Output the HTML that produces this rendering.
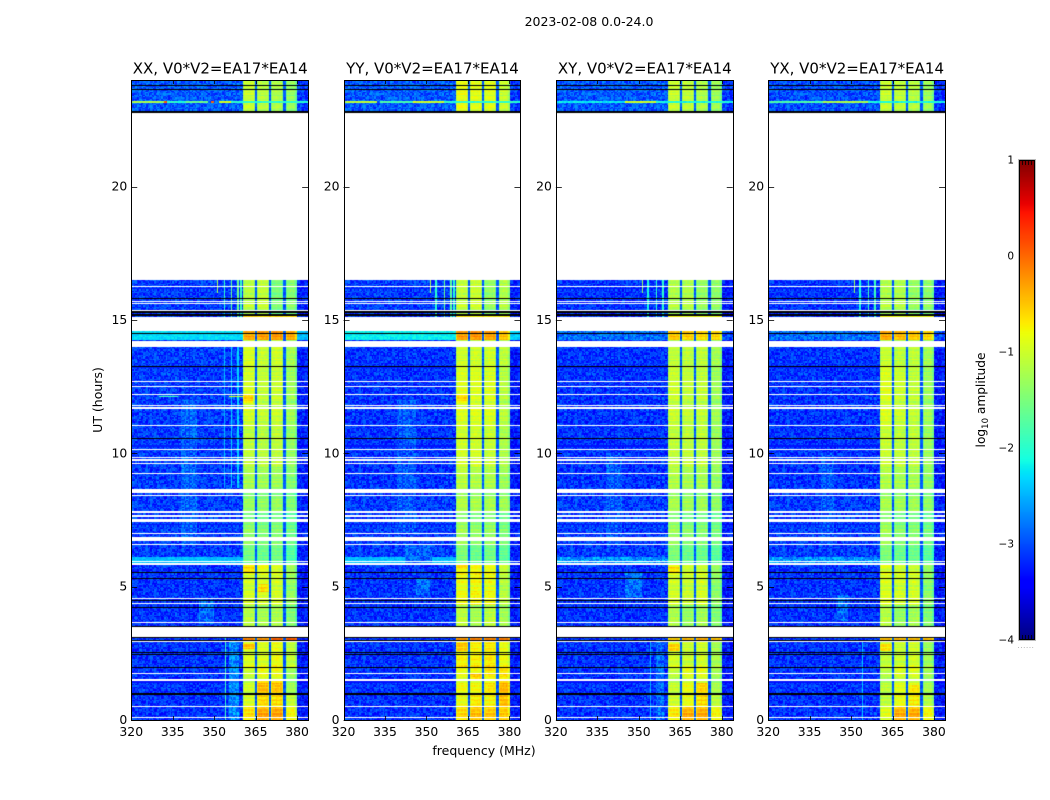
<!DOCTYPE html>
<html>
<head>
<meta charset="utf-8">
<title>2023-02-08 0.0-24.0</title>
<style>
html,body{margin:0;padding:0;background:#fff;}
#fig{position:relative;width:1050px;height:800px;overflow:hidden;background:#fff;}
canvas{position:absolute;display:block;}
svg{position:absolute;left:0;top:0;}
text{font-family:"DejaVu Sans","Liberation Sans",sans-serif;fill:#000;}
</style>
</head>
<body>
<div id="fig">
<svg id="ov" width="1050" height="800" viewBox="0 0 1050 800">
  <text x="589" y="26" text-anchor="middle" font-size="12.5">2023-02-08 0.0-24.0</text>
  <text x="484" y="755" text-anchor="middle" font-size="12.5">frequency (MHz)</text>
  <text transform="translate(102,400) rotate(-90)" text-anchor="middle" font-size="12.5">UT (hours)</text>
  <text transform="translate(985,400) rotate(-90)" text-anchor="middle" font-size="12.2">log<tspan font-size="8.5" dy="3">10</tspan><tspan dy="-3"> amplitude</tspan></text>
  <text x="1026" y="648" text-anchor="middle" font-size="7" style="fill:#999" letter-spacing="0.6">......</text>
</svg>
</div>
<script>
/* ---------- axis data ---------- */
const freqRange = [320, 384];
const hourRange = [0, 24];
const freqTicks = [320, 335, 350, 365, 380];
const hourTicks = [0, 5, 10, 15, 20];
const colorRange = [-4, 1];
const colorbarTicks = [1, 0, -1, -2, -3, -4];
const channelWidth = 0.5;
const rowHours = 0.05;

const subbands = [[360.5,365],[365.5,370],[370.5,374.9],[375.8,380]];
const subbandGapLevel = -2.95;
const blockEdges = [0,.5,1,2,3,3.5,4.3,5.6,5.85,6.55,7.8,8.7,9.5,11,13.3,14.21,14.6,16.5,22.8,24];

const backgroundXX = [-3.15,-3.15,-3.15,-3.15,-3.15,-3.15,-3.15,-3.15,-3.1,-3.1,-3.1,-3.1,-3.1,-3.1,-3.1,-2.3,-3.1,-3.1,-2.95];
const backgroundYY = [-3.15,-3.15,-3.15,-3.15,-3.15,-3.15,-3.15,-3.15,-3.1,-3.1,-3.1,-3.15,-3.15,-3.15,-3.15,-2.2,-3.1,-3.1,-2.95];
const backgroundXY = [-3.15,-3.15,-3.15,-3.15,-3.15,-3.15,-3.15,-3.15,-3.1,-3.1,-3.1,-3.15,-3.15,-3.15,-3.15,-2.85,-3.15,-3.15,-2.95];
const backgroundYX = [-3.15,-3.15,-3.15,-3.15,-3.15,-3.15,-3.15,-3.15,-3.1,-3.1,-3.1,-3.15,-3.15,-3.15,-3.15,-2.85,-3.15,-3.15,-3.0];

const bandLevelsXX = [
 [-.7,-.55,-.45,-.8],[-.95,-.75,-.75,-1.05],[-1.05,-.85,-.85,-1.3],[-.95,-.95,-.85,-1.1],
 [-.2,-.3,0,.05],[-1.15,-1.25,-1.2,-1.45],[-1,-1,-1,-1.35],[-.85,-.85,-.95,-1.3],
 [-1.55,-1.6,-1.55,-1.75],[-1.4,-1.5,-1.45,-1.6],[-1.35,-1.4,-1.35,-1.5],[-1.25,-1.3,-1.3,-1.45],[-1.1,-1.15,-1.1,-1.35],
 [-1,-1.1,-1.05,-1.3],[-.95,-1.05,-1,-1.25],[-.35,-.3,-.25,-.35],[-1.15,-1.1,-1.5,-1.45],
 [-1,-1,-1,-1],[-1.05,-1.15,-1.2,-1.35]];
const bandLevelsYY = [
 [-.65,-.5,-.55,-.55],[-.85,-.7,-.75,-.65],[-.85,-.85,-.7,-.65],[-.75,-.75,-.7,-.85],
 [-.3,-.2,-.2,-.15],[-1.1,-1.25,-1.1,-1.25],[-.85,-.8,-.85,-1.15],[-.7,-.8,-.85,-1.05],
 [-1.5,-1.6,-1.55,-1.65],[-1.3,-1.4,-1.35,-1.5],[-1.2,-1.25,-1.25,-1.3],[-1.15,-1.2,-1.2,-1.3],[-1,-1,-1.05,-1.2],
 [-.95,-.95,-.95,-1.15],[-1,-1,-1,-1.1],[-.3,-.25,-.3,-.5],[-1.1,-1.05,-1.35,-1.2],
 [-1,-1,-1,-1],[-.85,-.9,-.9,-1.05]];
const bandLevelsXY = [
 [-.75,-.55,-.5,-.8],[-1,-.85,-.75,-1.1],[-1.1,-.9,-.9,-1.25],[-1,-1.05,-1,-1.25],
 [-.6,-.5,-.4,-.5],[-1.2,-1.35,-1.25,-1.45],[-1,-1.05,-1,-1.4],[-.95,-1.05,-1.05,-1.35],
 [-1.5,-1.6,-1.6,-1.7],[-1.35,-1.45,-1.45,-1.55],[-1.25,-1.3,-1.3,-1.4],[-1.2,-1.25,-1.25,-1.35],[-1.1,-1.1,-1.1,-1.3],
 [-1.05,-1.1,-1.1,-1.3],[-1.1,-1.1,-1.1,-1.25],[-.5,-.55,-.6,-.6],[-1.2,-1.2,-1.35,-1.4],
 [-1,-1,-1,-1],[-1.05,-1.1,-1.2,-1.3]];
const bandLevelsYX = [
 [-.95,-.55,-.55,-.8],[-1.1,-.85,-.85,-1.15],[-1.15,-.95,-.95,-1.25],[-1.1,-1.05,-1,-1.3],
 [-.5,-.5,-.5,-.5],[-1.15,-1.35,-1.25,-1.45],[-.95,-1,-1,-1.4],[-.95,-1.05,-1.05,-1.35],
 [-1.5,-1.6,-1.6,-1.7],[-1.3,-1.45,-1.45,-1.55],[-1.25,-1.3,-1.3,-1.4],[-1.2,-1.25,-1.25,-1.35],[-1.05,-1.1,-1.1,-1.3],
 [-.95,-1.05,-1.1,-1.3],[-1.05,-1.1,-1.1,-1.25],[-.35,-.45,-.5,-.6],[-1.2,-1.2,-1.35,-1.4],
 [-1,-1,-1,-1],[-1.05,-1.1,-1.15,-1.3]];

/* brighter patches inside the sub-bands: [fLow, fHigh, hourLow, hourHigh, level] */
const bandSpotsXX = [[360.5,365,2.65,2.85,-.45],[365.5,375,1,1.45,-.5],[365.5,375,.55,.95,-.6],[365.5,375,0,.45,-.35],[360.5,365,5.55,5.75,-.6],[366,370,4.8,5.1,-.6],[360.5,364,11.9,12.2,-.6]];
const bandSpotsYY = [[375.5,380,.5,1.5,-.45],[365.5,370,1.5,1.75,-.5],[360.5,365,2.6,2.9,-.5],[360.5,365,11.9,12.2,-.65]];
const bandSpotsXY = [[360.5,365,2.6,2.85,-.55],[370.5,375,.55,1.4,-.6],[365.5,375,0,.45,-.4],[360.5,365,5.5,5.75,-.6]];
const bandSpotsYX = [[365.5,375,0,.45,-.4],[370.5,375,.55,1.3,-.7],[360.5,365,2.6,2.85,-.65]];

/* localised emission: [fLow, fHigh, hourLow, hourHigh, level] */
const emissionXX = [
 [320,360.5,5.85,6.1,-2.45],[354,354.5,0,3.1,-1.9],[355.5,359,0,3,-2.7],
 [350.8,351.7,16,16.5,-1.3],[353.5,354,14.6,16.5,-2],[356,356.5,14.6,16.5,-1.6],[358.5,359,14.6,16.5,-1.6],[359.5,360,14.6,16.5,-1.9],
 [353.5,354,8.7,14,-2.5],[356,356.5,8.7,14,-2.35],[358.5,359,8.7,14,-2.35],
 [338,344,6.6,12,-2.9],[344.5,350,3.6,4.5,-2.85],[330,337,12.1,12.14,-1.9],[355.5,360.5,12.1,12.14,-1],
 [320.5,332,23.15,23.2,-1.2],[332,333,23.15,23.2,.1],[333,340,23.15,23.2,-2],[340,348,23.15,23.2,-1.6],[349,350,23.15,23.2,0],[352,356,23.15,23.2,-.9],[356,384,23.15,23.2,-2],
 [360.5,380,15.11,15.18,-.6]];
const emissionYY = [
 [320,360.5,5.85,6.1,-2.45],[351,351.7,16,16.5,-1.3],[353,353.5,14.6,16.5,-2],[356,356.5,14.6,16.5,-1.6],[358.5,359,14.6,16.5,-1.7],[359.5,360,14.6,16.5,-2],
 [346,351,4.7,5.3,-2.85],[339,346,7,12,-2.95],[342,352,5.9,6.6,-2.9],
 [320.5,332,23.15,23.2,-1.1],[333,345,23.15,23.2,-1.8],[345,356,23.15,23.2,-1],[356,384,23.15,23.2,-2],
 [360.5,380,15.11,15.18,-.7]];
const emissionXY = [
 [320,360.5,5.85,6.1,-2.65],[351,351.7,16,16.5,-1.4],[353,353.5,14.6,16.5,-2.1],[356,356.5,14.6,16.5,-2],[358.5,359,14.6,16.5,-2],
 [345,351,4.6,5.5,-2.85],[338,344,6.6,10,-2.95],[354,354.5,0,3,-2.5],[356,359,0,3,-2.85],
 [320.5,345,23.15,23.2,-2.2],[345,356,23.15,23.2,-1],[356,384,23.15,23.2,-2.1],
 [360.5,380,15.11,15.18,-.8]];
const emissionYX = [
 [320,360.5,5.85,6.1,-2.65],[351,351.7,16,16.5,-1.4],[353,353.5,14.6,16.5,-2.1],[356,356.5,14.6,16.5,-1.9],[358.5,359,14.6,16.5,-1.9],
 [345,349,3.7,4.7,-2.85],[339,344,6.6,10,-2.95],[354,354.5,0,3,-2.4],
 [320.5,340,23.15,23.2,-1.8],[340,356,23.15,23.2,-1.2],[356,384,23.15,23.2,-2.1],
 [360.5,380,15.11,15.18,-.8]];

/* flagged (blank) and dropout (black) integrations: [hourLow, hourHigh] */
const flaggedHours = [
 [.07,.12],[.47,.53],[1.46,1.54],[1.73,1.77],[2.91,2.95],[3.12,3.5],[3.64,3.68],[4.35,4.39],[4.53,4.57],
 [5.83,5.87],[5.93,5.97],[6.57,6.61],[6.72,6.87],[6.96,7],[7.42,7.46],[7.48,7.52],[7.63,7.67],[7.78,7.82],
 [8.39,8.43],[8.53,8.68],[9.23,9.27],[9.6,9.65],[9.73,9.77],[9.82,9.86],[10.13,10.17],[11.01,11.05],
 [11.68,11.72],[11.76,11.8],[12.19,12.23],[12.49,12.53],[12.67,12.71],[13.99,14.21],[14.59,15.11],
 [15.35,15.39],[15.6,15.64],[15.69,15.73],[16.25,16.29],[16.5,22.8]];
const dropoutHours = [
 [.95,1.02],[1.96,2],[2.44,2.48],[2.5,2.54],[2.95,2.99],[3.09,3.13],[3.5,3.54],[4.2,4.24],[4.45,4.49],
 [5.28,5.32],[5.5,5.54],[10.54,10.58],[13.25,13.29],[14.49,14.53],[15.16,15.24],[15.28,15.32],[15.78,15.82],
 [22.77,22.85],[23.64,23.68],[23.76,23.8]];

/* receiver speckle residuals, estimated in amplitude only */
const speckleChan = [.12,-.2,.05,.25,-.1,-.28,.18,.02,-.15,.3,-.05,.1,-.24,.16,-.02,.22,-.18];
const speckleRow = [.1,-.15,.2,-.05,.28,-.22,.04,.14,-.3,.08,-.12,.24,-.02,-.18,.16,.06,-.26,.3,-.08,.12,-.2,.02,.18];
const speckleCell = [.35,-.4,.12,.5,-.22,-.5,.28,.05,-.32,.44,-.1,.2,-.45,.3,-.03,.4,-.28,.15,-.55,.08,.48,-.18,.25,-.38,.02,.55,-.12,-.48,.33,.1,
 -.25,.42,-.06,-.36,.22,.52,-.42,.03,.17,-.3,.38,-.15,-.52,.27,.07,.46,-.2,-.34,.13,.5,-.08,-.44,.31,.0,.24,-.27,.4,-.58,.16];

const panelDefs = [
 {key:'xx', title:'XX, V0*V2=EA17*EA14', background:backgroundXX, bandLevels:bandLevelsXX, bandSpots:bandSpotsXX, emission:emissionXX},
 {key:'yy', title:'YY, V0*V2=EA17*EA14', background:backgroundYY, bandLevels:bandLevelsYY, bandSpots:bandSpotsYY, emission:emissionYY},
 {key:'xy', title:'XY, V0*V2=EA17*EA14', background:backgroundXY, bandLevels:bandLevelsXY, bandSpots:bandSpotsXY, emission:emissionXY},
 {key:'yx', title:'YX, V0*V2=EA17*EA14', background:backgroundYX, bandLevels:bandLevelsYX, bandSpots:bandSpotsYX, emission:emissionYX}
];

/* ---------- layout ---------- */
const plotW = 176.9, plotH = 640, plotTop = 80, firstLeft = 131.25, panelStep = 212.3;
const xScale = f => (f - freqRange[0]) / (freqRange[1] - freqRange[0]) * plotW;
const yScale = h => plotH - (h - hourRange[0]) / (hourRange[1] - hourRange[0]) * plotH;

function interp(stops, v) {
  for (let i = 1; i < stops.length; i++) {
    if (v <= stops[i][0]) {
      const p = stops[i-1], q = stops[i];
      return p[1] + (q[1]-p[1]) * (v-p[0]) / (q[0]-p[0]);
    }
  }
  return stops[stops.length-1][1];
}
const jetR = [[0,0],[.35,0],[.66,1],[.89,1],[1,.5]];
const jetG = [[0,0],[.125,0],[.375,1],[.64,1],[.91,0],[1,0]];
const jetB = [[0,.5],[.11,1],[.34,1],[.65,0],[1,0]];
function jet(level) {
  const n = Math.max(0, Math.min(1, (level - colorRange[0]) / (colorRange[1] - colorRange[0])));
  return 'rgb(' + Math.round(interp(jetR,n)*255) + ',' + Math.round(interp(jetG,n)*255) + ',' + Math.round(interp(jetB,n)*255) + ')';
}
function blockIndex(h) {
  for (let i = 0; i < blockEdges.length - 1; i++) if (h < blockEdges[i+1]) return i;
  return blockEdges.length - 2;
}
function cellLevel(p, f, h, c, r) {
  const b = blockIndex(h);
  const fm = f + channelWidth / 2, hm = h + rowHours / 2;
  const chanTex = speckleChan[c % speckleChan.length];
  const rowTex = speckleRow[r % speckleRow.length];
  const cellTex = speckleCell[(c * 31 + r * 17 + c * r) % speckleCell.length];
  let level = null, inBand = false, isGap = false;
  for (let i = 0; i < subbands.length; i++) {
    if (fm >= subbands[i][0] && fm <= subbands[i][1]) {
      level = p.bandLevels[b][i];
      inBand = true;
      for (let s = 0; s < p.bandSpots.length; s++) {
        const q = p.bandSpots[s];
        if (fm >= q[0] && fm < q[1] && hm >= q[2] && hm < q[3]) level = q[4];
      }
      if (fm - subbands[i][0] < .5 || subbands[i][1] - fm < .5) level -= .25;
    }
  }
  if (level === null) {
    if (fm > subbands[0][0] && fm < subbands[3][1]) { level = subbandGapLevel; isGap = true; }
    else level = p.background[b] - (fm > subbands[3][1] ? .15 : 0);
  }
  for (let k = 0; k < p.emission.length; k++) {
    const e = p.emission[k];
    if (fm >= e[0] && fm < e[1] && hm >= e[2] && hm < e[3]) {
      if (!inBand || e[1] - e[0] > 15) level = e[4];
    }
  }
  if (inBand) return level + rowTex * .5 + chanTex * .15 + cellTex * .18;
  if (isGap) return level + cellTex * .25;
  if (level > -2.6) return level + rowTex * .1 + cellTex * .22;
  return level + rowTex * .08 + chanTex * .08 + cellTex * .6;
}

const fig = document.getElementById('fig');
const ov = document.getElementById('ov');
const NS = 'http://www.w3.org/2000/svg';

function addLine(x1, y1, x2, y2) {
  const l = document.createElementNS(NS, 'line');
  l.setAttribute('x1', x1);
  l.setAttribute('y1', y1);
  l.setAttribute('x2', x2);
  l.setAttribute('y2', y2);
  l.setAttribute('stroke', '#000');
  l.setAttribute('stroke-width', '0.8');
  ov.appendChild(l);
  return l;
}
function addText(x, y, str, size, anchor) {
  const t = document.createElementNS(NS, 'text');
  t.setAttribute('x', x);
  t.setAttribute('y', y);
  t.setAttribute('font-size', size);
  t.setAttribute('text-anchor', anchor);
  t.textContent = str;
  ov.appendChild(t);
  return t;
}

panelDefs.forEach((p, idx) => {
  const left = firstLeft + idx * panelStep;
  const leftPx = Math.round(left);
  const rightPx = Math.round(left + plotW);
  const cv = document.createElement('canvas');
  cv.width = rightPx - leftPx;
  cv.height = plotH;
  cv.style.left = leftPx + 'px';
  cv.style.top = plotTop + 'px';
  
  
  fig.insertBefore(cv, ov);
  const g = cv.getContext('2d');
  g.fillStyle = '#fff';
  g.fillRect(0, 0, cv.width, cv.height);

  const nChan = Math.round((freqRange[1] - freqRange[0]) / channelWidth);
  const nRow = Math.round((hourRange[1] - hourRange[0]) / rowHours);
  for (let r = 0; r < nRow; r++) {
    const h = hourRange[0] + r * rowHours;
    const y0 = Math.round(yScale(h + rowHours)), y1 = Math.round(yScale(h));
    for (let c = 0; c < nChan; c++) {
      const f = freqRange[0] + c * channelWidth;
      const x0 = Math.round(xScale(f)), x1 = Math.round(xScale(f + channelWidth));
      g.fillStyle = jet(cellLevel(p, f, h, c, r));
      g.fillRect(x0, y0, x1 - x0, y1 - y0);
    }
  }
  function band(spans, colour) {
    g.fillStyle = colour;
    spans.forEach(s => {
      const yA = Math.round(yScale(s[1])), yB = Math.round(yScale(s[0]));
      g.fillRect(0, yA, cv.width, Math.max(1, yB - yA));
    });
  }
  band(flaggedHours, '#fff');
  band(dropoutHours, '#000');

  /* frame */
  const frame = document.createElementNS(NS, 'rect');
  frame.setAttribute('x', leftPx + .5);
  frame.setAttribute('y', plotTop + .5);
  frame.setAttribute('width', rightPx - leftPx);
  frame.setAttribute('height', plotH);
  frame.setAttribute('fill', 'none');
  frame.setAttribute('stroke', '#000');
  frame.setAttribute('stroke-width', '1');
  
  
  ov.appendChild(frame);

  /* title */
  const ttl = addText(left + plotW / 2 + .5, 73.5, p.title, 15, 'middle');
  
  

  /* ticks */
  freqTicks.forEach(v => {
    const x = Math.round(left + xScale(v)) + .5;
    const a = addLine(x, plotTop + plotH, x, plotTop + plotH - 4);
    
    
    const b = addLine(x, plotTop, x, plotTop + 4);
    
    
    const t = addText(left + xScale(v), plotTop + plotH + 16, String(v), 12.4, 'middle');
    
    
  });
  hourTicks.forEach(v => {
    const y = Math.round(plotTop + yScale(v)) + .5;
    const a = addLine(left, y, left + 6, y);
    
    
    const b = addLine(left + plotW, y, left + plotW - 6, y);
    
    
    const t = addText(left - 4, plotTop + yScale(v) + 4, String(v), 12.4, 'end');
    
    
  });
});

/* ---------- colorbar ---------- */
const cbLeft = 1019, cbTop = 160, cbW = 16, cbH = 480;
const cbScale = v => cbTop + (colorRange[1] - v) / (colorRange[1] - colorRange[0]) * cbH;
const cb = document.createElement('canvas');
cb.width = cbW;
cb.height = cbH;
cb.style.left = cbLeft + 'px';
cb.style.top = cbTop + 'px';


fig.insertBefore(cb, ov);
const cg = cb.getContext('2d');
for (let i = 0; i < cbH; i++) {
  const v = colorRange[1] - (i + .5) / cbH * (colorRange[1] - colorRange[0]);
  cg.fillStyle = jet(v);
  cg.fillRect(0, i, cbW, 1);
}
const cbOuter = document.createElementNS(NS, 'rect');
cbOuter.setAttribute('x', cbLeft - .5);
cbOuter.setAttribute('y', cbTop - .5);
cbOuter.setAttribute('width', cbW + 1);
cbOuter.setAttribute('height', cbH + 1);
cbOuter.setAttribute('fill', 'none');
cbOuter.setAttribute('stroke', '#bbb');


ov.appendChild(cbOuter);
const cbFrame = document.createElementNS(NS, 'rect');
cbFrame.setAttribute('x', cbLeft + .5);
cbFrame.setAttribute('y', cbTop + .5);
cbFrame.setAttribute('width', cbW - 1);
cbFrame.setAttribute('height', cbH - 1);
cbFrame.setAttribute('fill', 'none');
cbFrame.setAttribute('stroke', '#000');


ov.appendChild(cbFrame);
for (let i = 1; i <= 4; i++) {
  const x = cbLeft + i * 3 + .5;
  const a = addLine(x, cbTop, x, cbTop + 5);
  
  
  const b = addLine(x, cbTop + cbH, x, cbTop + cbH - 5);
  
  
}
colorbarTicks.forEach(v => {
  const label = v < 0 ? '\u2212' + Math.abs(v) : String(v);
  const t = addText(cbLeft - 5, cbScale(v) + 3.5, label, 10.5, 'end');
  
  
});
</script>
</body>
</html>
